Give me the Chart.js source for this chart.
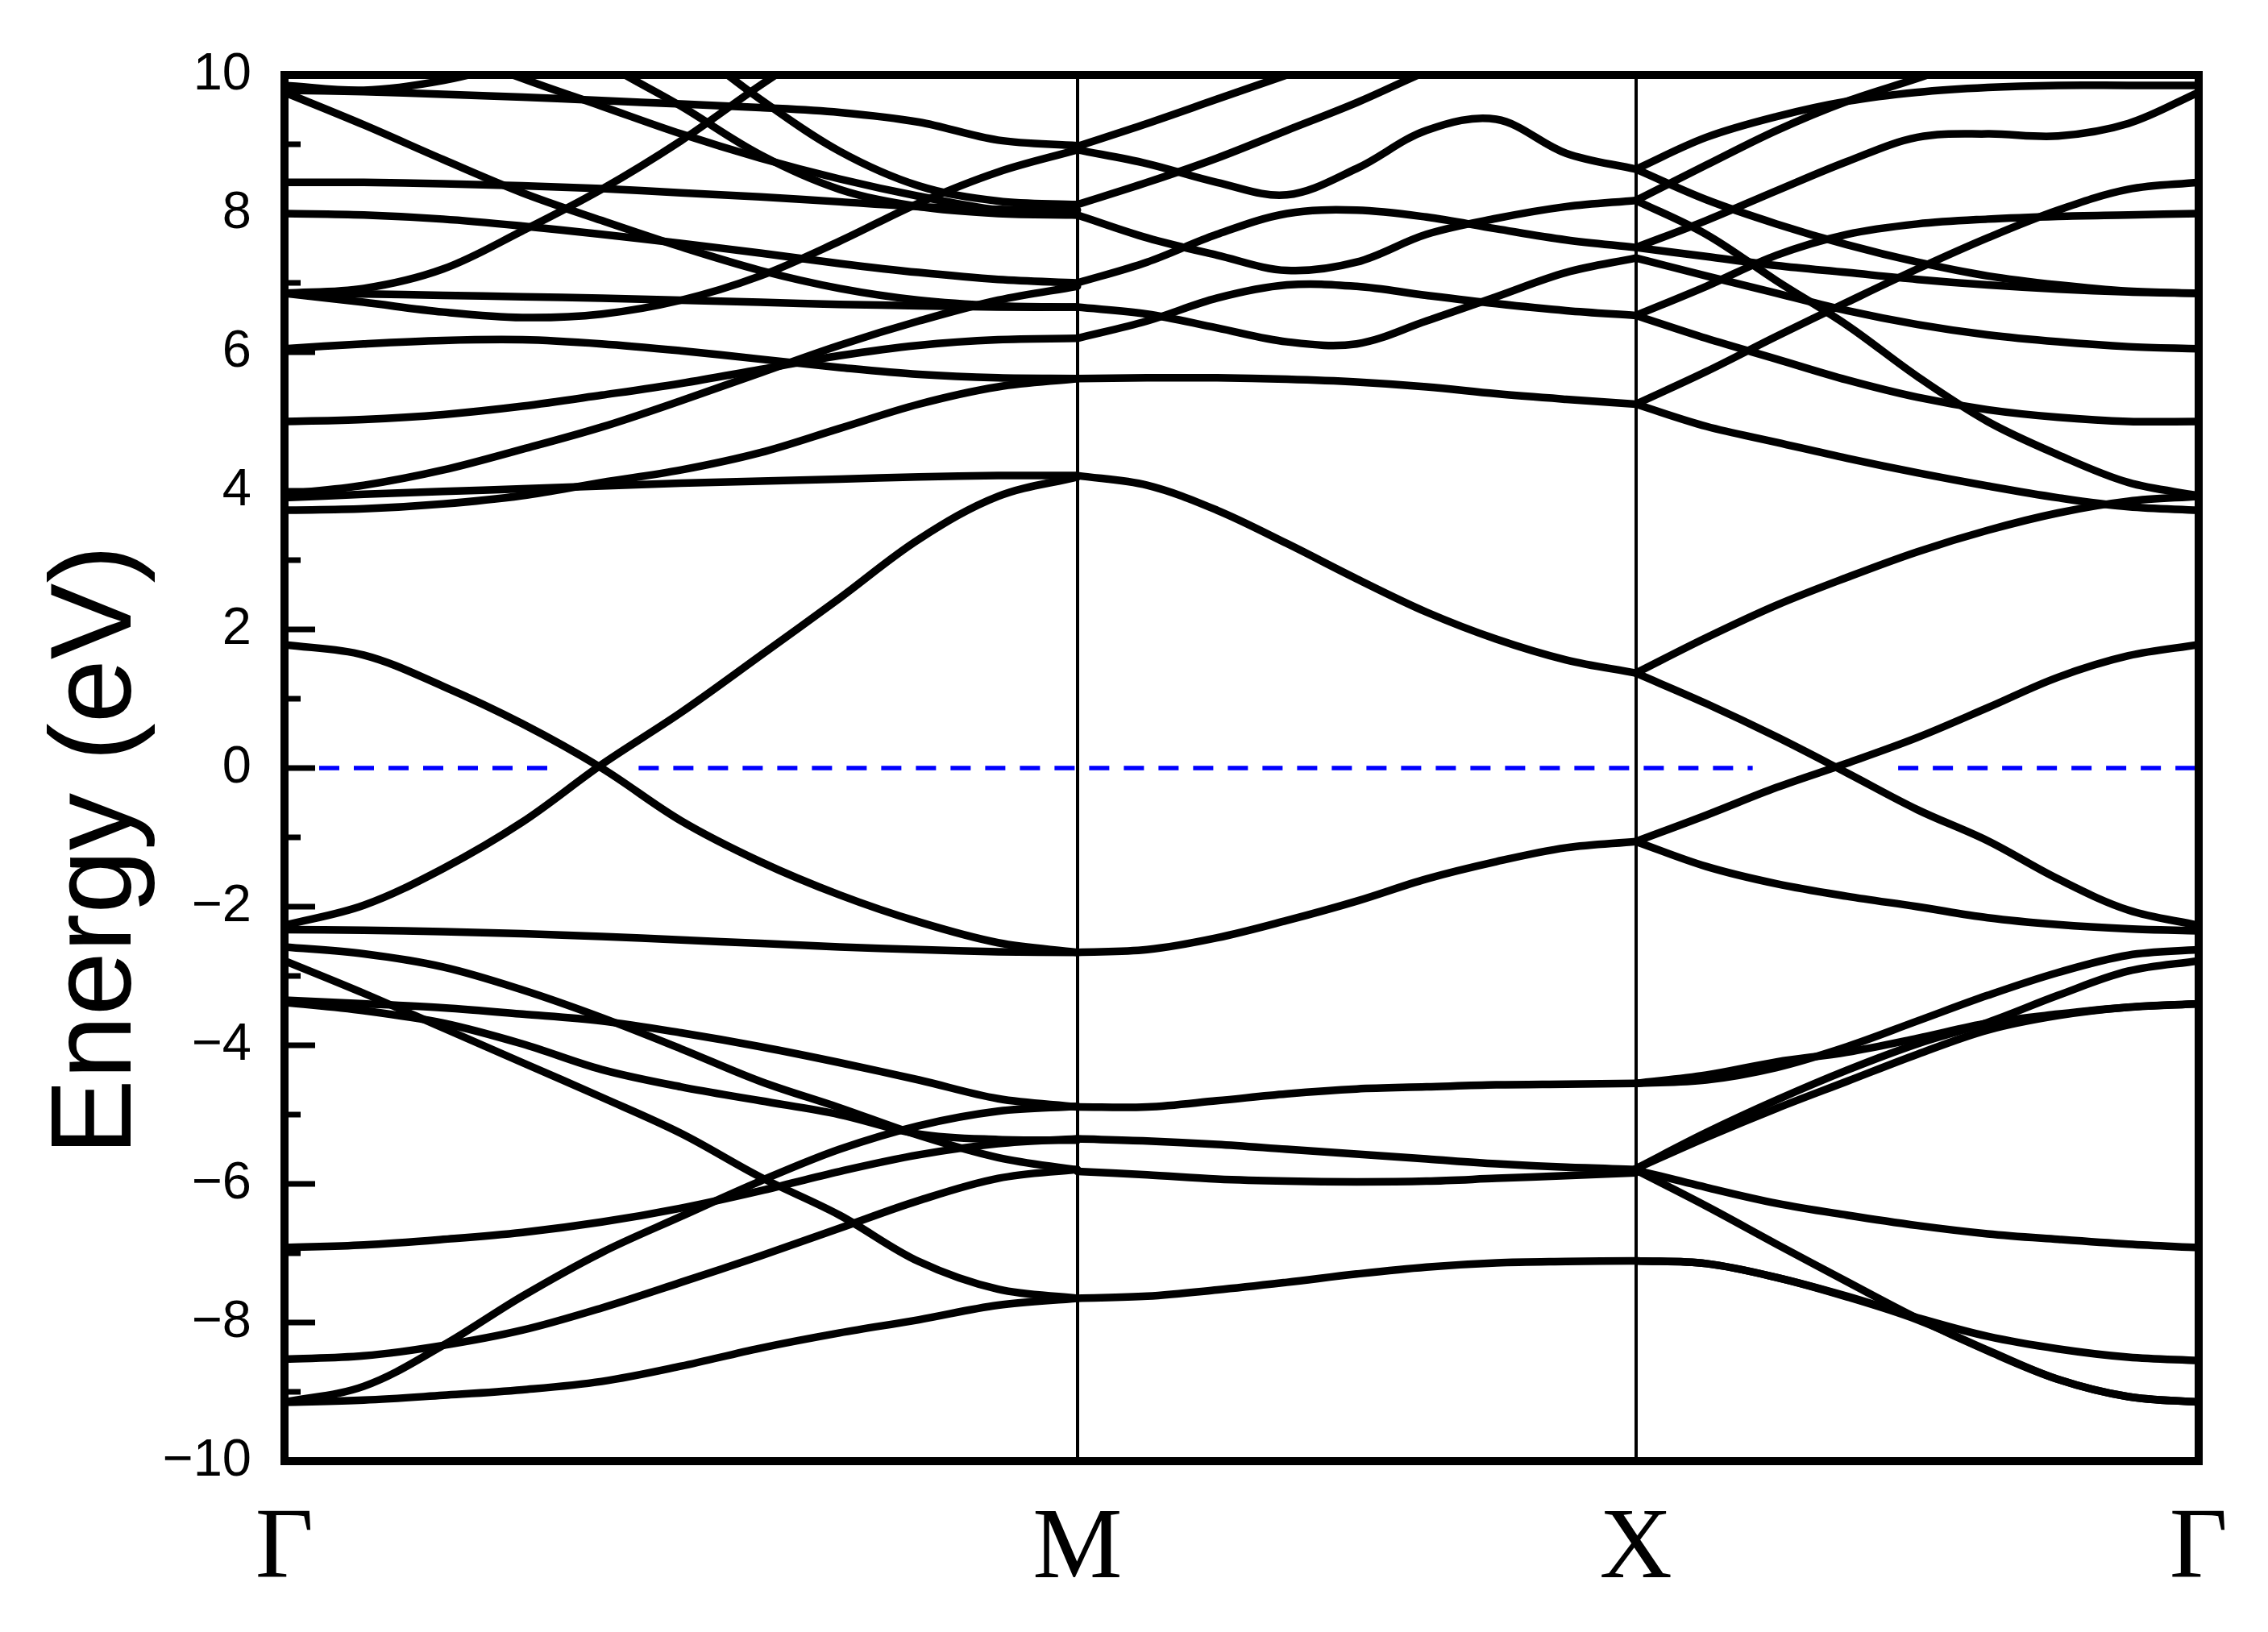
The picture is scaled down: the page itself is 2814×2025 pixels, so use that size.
<!DOCTYPE html>
<html>
<head>
<meta charset="utf-8">
<script src="https://cdn.jsdelivr.net/npm/chart.js@4/dist/chart.umd.min.js"></script>
<style>
  html, body { margin: 0; padding: 0; background: #fff; }
  canvas { display: block; }
</style>
</head>
<body>
<canvas id="bands" width="2814" height="2025"></canvas>
<script>
// high-symmetry path
const kLabels = ['Γ', 'M', 'X', 'Γ'];
const kPoints = [0, 0.4142, 0.7060, 1];

// sampling fractions along each segment
const stepsGM = [0, 0.1, 0.2, 0.3, 0.4, 0.5, 0.6, 0.7, 0.8, 0.9, 1];
const stepsMX = [0, 0.125, 0.25, 0.375, 0.5, 0.625, 0.75, 0.875, 1];
const stepsXG = [0, 0.125, 0.25, 0.375, 0.5, 0.625, 0.75, 0.875, 1];

// energies (eV) along Γ-M
const bandsGM = [
    [-9.15, -9.12, -9.05, -8.97, -8.85, -8.63, -8.37, -8.15, -7.96, -7.75, -7.65],
    [-9.15, -8.92, -8.33, -7.62, -6.99, -6.47, -5.96, -5.5, -5.16, -4.95, -4.88],
    [-8.53, -8.48, -8.33, -8.11, -7.79, -7.42, -7.04, -6.64, -6.24, -5.92, -5.79],
    [-6.92, -6.88, -6.8, -6.7, -6.55, -6.35, -6.1, -5.82, -5.58, -5.42, -5.35],
    [-3.38, -3.5, -3.68, -3.98, -4.35, -4.6, -4.8, -5.0, -5.28, -5.36, -5.37],
    [-3.35, -3.4, -3.46, -3.55, -3.65, -3.82, -4.02, -4.25, -4.5, -4.77, -4.89],
    [-2.78, -3.25, -3.75, -4.25, -4.75, -5.27, -5.9, -6.45, -7.12, -7.52, -7.65],
    [-2.58, -2.68, -2.87, -3.2, -3.6, -4.05, -4.52, -4.9, -5.3, -5.62, -5.8],
    [-2.33, -2.34, -2.36, -2.39, -2.43, -2.48, -2.53, -2.58, -2.62, -2.65, -2.66],
    [-2.27, -1.98, -1.45, -0.78, 0.05, 0.8, 1.62, 2.45, 3.3, 3.92, 4.2],
    [1.78, 1.63, 1.18, 0.64, 0.0, -0.76, -1.35, -1.83, -2.22, -2.52, -2.66],
    [3.9, 3.95, 3.99, 4.03, 4.07, 4.11, 4.14, 4.17, 4.2, 4.22, 4.22],
    [3.72, 3.74, 3.81, 3.93, 4.12, 4.3, 4.55, 4.9, 5.25, 5.5, 5.62],
    [3.95, 4.08, 4.3, 4.6, 4.92, 5.3, 5.7, 6.1, 6.45, 6.75, 6.95],
    [5.0, 5.03, 5.1, 5.22, 5.38, 5.55, 5.75, 5.95, 6.1, 6.18, 6.2],
    [6.05, 6.12, 6.17, 6.18, 6.12, 6.02, 5.9, 5.78, 5.68, 5.63, 5.62],
    [6.85, 6.84, 6.82, 6.8, 6.78, 6.75, 6.72, 6.69, 6.67, 6.65, 6.65],
    [6.85, 6.72, 6.58, 6.5, 6.55, 6.75, 7.1, 7.6, 8.15, 8.6, 8.92],
    [6.85, 6.92, 7.2, 7.75, 8.35, 9.05, 9.85, 10.6, 11.3, 12.0, 12.5],
    [8.0, 7.98, 7.92, 7.82, 7.7, 7.57, 7.43, 7.28, 7.15, 7.05, 7.0],
    [8.45, 8.45, 8.43, 8.4, 8.36, 8.3, 8.24, 8.17, 8.1, 8.06, 8.05],
    [9.75, 9.28, 8.78, 8.3, 7.9, 7.52, 7.18, 6.92, 6.75, 6.67, 6.65],
    [9.78, 9.76, 9.72, 9.68, 9.63, 9.58, 9.53, 9.46, 9.32, 9.06, 8.98],
    [9.85, 9.78, 9.92, 10.2, 10.5, 10.8, 11.1, 11.4, 11.7, 12.0, 12.2],
    [13.0, 12.6, 12.2, 11.8, 11.2, 10.5, 9.65, 8.9, 8.4, 8.18, 8.13],
    [13.0, 12.4, 11.8, 11.0, 10.2, 9.55, 8.85, 8.35, 8.1, 8.0, 7.98],
    [12.0, 11.2, 10.4, 9.95, 9.55, 9.15, 8.8, 8.5, 8.25, 8.05, 7.98]
];

// energies (eV) along M-X
const bandsMX = [
    [-7.65, -7.62, -7.53, -7.42, -7.3, -7.2, -7.14, -7.12, -7.11],
    [-5.82, -5.87, -5.93, -5.96, -5.97, -5.96, -5.92, -5.88, -5.84],
    [-5.35, -5.38, -5.43, -5.5, -5.57, -5.64, -5.71, -5.76, -5.79],
    [-4.89, -4.89, -4.8, -4.7, -4.63, -4.6, -4.57, -4.56, -4.55],
    [-2.66, -2.62, -2.45, -2.2, -1.92, -1.6, -1.35, -1.15, -1.06],
    [4.22, 4.08, 3.72, 3.24, 2.73, 2.25, 1.86, 1.56, 1.37],
    [5.62, 5.63, 5.63, 5.61, 5.57, 5.5, 5.4, 5.32, 5.25],
    [6.2, 6.45, 6.78, 6.97, 6.95, 6.82, 6.7, 6.6, 6.53],
    [6.65, 6.55, 6.35, 6.15, 6.12, 6.45, 6.8, 7.15, 7.36],
    [7.0, 7.3, 7.7, 8.0, 8.05, 7.95, 7.78, 7.62, 7.51],
    [7.98, 7.65, 7.4, 7.18, 7.3, 7.7, 7.93, 8.1, 8.19],
    [8.92, 8.72, 8.45, 8.27, 8.65, 9.2, 9.36, 8.87, 8.64],
    [8.13, 8.45, 8.8, 9.2, 9.6, 10.05, 10.45, 10.8, 11.1],
    [8.97, 9.3, 9.65, 10.0, 10.35, 10.7, 11.0, 11.3, 11.6]
];

// energies (eV) along X-Γ
const bandsXG = [
    [-7.11, -7.15, -7.35, -7.62, -7.93, -8.2, -8.38, -8.5, -8.55],
    [-7.11, -7.15, -7.35, -7.63, -7.96, -8.4, -8.82, -9.07, -9.15],
    [-5.8, -6.32, -6.87, -7.41, -7.94, -8.41, -8.82, -9.07, -9.15],
    [-5.8, -6.05, -6.28, -6.45, -6.6, -6.72, -6.8, -6.87, -6.92],
    [-5.78, -5.33, -4.91, -4.52, -4.13, -3.78, -3.57, -3.45, -3.4],
    [-5.78, -5.26, -4.79, -4.36, -3.98, -3.67, -3.28, -2.93, -2.78],
    [-4.55, -4.43, -4.24, -4.1, -3.9, -3.68, -3.55, -3.45, -3.4],
    [-4.55, -4.5, -4.32, -4.02, -3.65, -3.28, -2.95, -2.7, -2.62],
    [-1.06, -1.42, -1.67, -1.85, -2.0, -2.16, -2.26, -2.32, -2.35],
    [-1.06, -0.68, -0.28, 0.07, 0.44, 0.87, 1.31, 1.62, 1.78],
    [1.37, 0.93, 0.45, -0.07, -0.6, -1.05, -1.6, -2.05, -2.27],
    [1.37, 1.88, 2.35, 2.75, 3.12, 3.43, 3.68, 3.85, 3.92],
    [5.25, 4.93, 4.7, 4.47, 4.26, 4.07, 3.9, 3.77, 3.72],
    [8.19, 7.7, 7.03, 6.39, 5.65, 5.0, 4.52, 4.12, 3.93],
    [6.53, 6.2, 5.9, 5.6, 5.35, 5.17, 5.06, 5.0, 5.0],
    [7.36, 7.1, 6.85, 6.6, 6.4, 6.25, 6.15, 6.08, 6.05],
    [7.51, 7.38, 7.25, 7.15, 7.05, 6.97, 6.91, 6.87, 6.85],
    [8.64, 8.2, 7.85, 7.55, 7.3, 7.1, 6.97, 6.88, 6.85],
    [6.53, 6.95, 7.4, 7.7, 7.85, 7.92, 7.96, 7.98, 8.0],
    [5.25, 5.72, 6.23, 6.72, 7.2, 7.65, 8.05, 8.35, 8.45],
    [7.51, 7.9, 8.33, 8.75, 9.1, 9.15, 9.12, 9.3, 9.75],
    [8.64, 9.1, 9.4, 9.62, 9.75, 9.82, 9.85, 9.85, 9.85],
    [8.19, 8.7, 9.2, 9.62, 9.95, 10.3, 10.6, 10.9, 11.2]
];

// Fermi level (dashed), drawn in pieces like the original
const fermiEnergy = 0;
const fermiSpans = [[0, 0.143], [0.185, 0.767], [0.843, 1]];

const energyMin = -10;
const energyMax = 10;
const energyStep = 2;
const yTitle = 'Energy (eV)';

const segments = [
    { steps: stepsGM, bands: bandsGM },
    { steps: stepsMX, bands: bandsMX },
    { steps: stepsXG, bands: bandsXG }
];

const datasets = [];

segments.forEach((seg, i) => {
    const k0 = kPoints[i];
    const k1 = kPoints[i + 1];
    seg.bands.forEach(band => {
        datasets.push({
            data: seg.steps.map((f, j) => ({ x: k0 + f * (k1 - k0), y: band[j] })),
            borderColor: '#000000',
            borderWidth: 9.5,
            pointRadius: 0,
            fill: false,
            tension: 0.35,
            borderCapStyle: 'round',
            clip: 0
        });
    });
});

fermiSpans.forEach(span => {
    datasets.push({
        data: span.map(k => ({ x: k, y: fermiEnergy })),
        borderColor: '#0000ff',
        borderWidth: 5.5,
        borderDash: [25, 18],
        pointRadius: 0,
        fill: false,
        clip: 0
    });
});

// frame, inner ticks on the energy axis and the rotated axis title
const framePlugin = {
    id: 'frame',
    afterDatasetsDraw(chart) {
        const { ctx, chartArea: a, scales: { y } } = chart;
        ctx.save();
        ctx.strokeStyle = '#000';
        ctx.lineWidth = 10;
        ctx.strokeRect(a.left, a.top, a.right - a.left, a.bottom - a.top);

        ctx.lineWidth = 7;
        for (let v = energyMin; v <= energyMax; v += 1) {
            const py = y.getPixelForValue(v);
            const len = v % 2 === 0 ? 38 : 20;
            ctx.beginPath();
            ctx.moveTo(a.left, py);
            ctx.lineTo(a.left + len, py);
            ctx.stroke();
        }

        ctx.translate(162, (a.top + a.bottom) / 2 + 102);
        ctx.rotate(-Math.PI / 2);
        ctx.font = '142px "Liberation Sans", Arial, sans-serif';
        ctx.textAlign = 'center';
        ctx.textBaseline = 'alphabetic';
        ctx.fillStyle = '#000';
        ctx.fillText(yTitle, 0, 0);
        ctx.restore();
    }
};

new Chart(document.getElementById('bands'), {
    type: 'line',
    data: { datasets },
    options: {
        responsive: false,
        animation: false,
        devicePixelRatio: 1,
        layout: { padding: { top: 93, right: 86, left: 0, bottom: 0 } },
        plugins: {
            legend: { display: false },
            tooltip: { enabled: false }
        },
        scales: {
            x: {
                type: 'linear',
                min: 0,
                max: 1,
                afterBuildTicks: scale => {
                    scale.ticks = kPoints.map(v => ({ value: v }));
                },
                afterFit: scale => { scale.height = 212; },
                border: { display: false },
                grid: {
                    drawTicks: false,
                    lineWidth: 4,
                    color: ctx => (ctx.index === 0 || ctx.index === kPoints.length - 1) ? 'rgba(0,0,0,0)' : '#000000'
                },
                ticks: {
                    autoSkip: false,
                    maxRotation: 0,
                    padding: 36,
                    color: '#000',
                    font: { family: '"Liberation Serif", "Times New Roman", serif', size: 125 },
                    callback: (value, index) => kLabels[index]
                }
            },
            y: {
                min: energyMin,
                max: energyMax,
                afterFit: scale => { scale.width = 353; },
                border: { display: false },
                grid: { display: false, drawTicks: false },
                ticks: {
                    stepSize: energyStep,
                    padding: 41,
                    color: '#000',
                    font: { family: '"Liberation Sans", Arial, sans-serif', size: 65 },
                    callback: value => String(value).replace('-', '\u2212')
                }
            }
        }
    },
    plugins: [framePlugin]
});
</script>
</body>
</html>
